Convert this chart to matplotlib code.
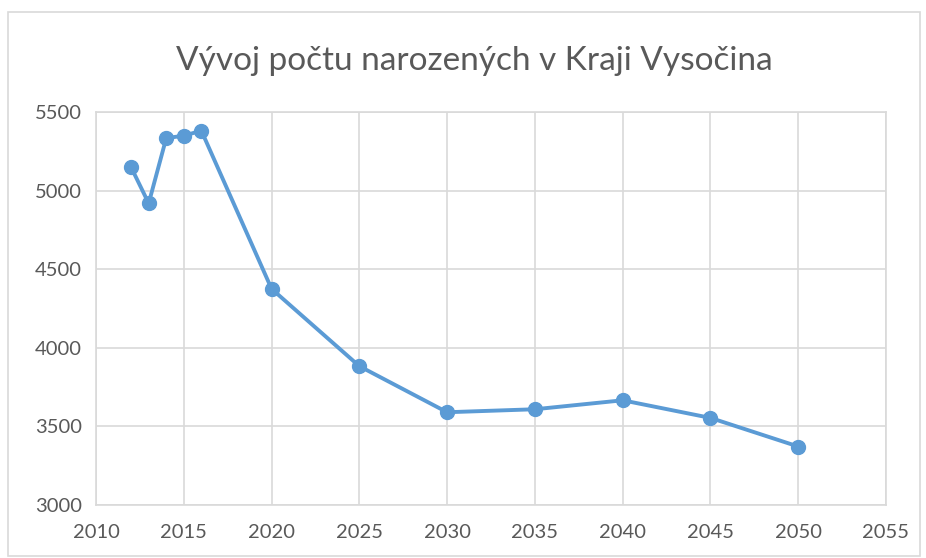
import matplotlib.pyplot as plt
from matplotlib.patches import Rectangle

# roky a pocty narozenych (odhad z grafu)
roky = [2012, 2013, 2014, 2015, 2016, 2020, 2025, 2030, 2035, 2040, 2045, 2050]
narozeni = [5148, 4919, 5334, 5349, 5381, 4375, 3883, 3590, 3609, 3666, 3554, 3372]

x_ticks = list(range(2010, 2056, 5))
y_ticks = list(range(3000, 5501, 500))

plt.rcParams['font.family'] = ['Lato', 'DejaVu Sans']

fig = plt.figure(figsize=(9.26, 5.58), dpi=100)
ax = fig.add_axes([0.1037, 0.095, 0.8531, 0.7043])

# ramecek kolem grafu
fig.patches.append(Rectangle((0.009, 0.004), 0.985, 0.975, transform=fig.transFigure,
                             fill=False, edgecolor='#d9d9d9', linewidth=1.2))

ax.plot(roky, narozeni, color='#5b9bd5', linewidth=2.8, marker='o', markersize=10,
        zorder=3)

ax.set_xlim(2010, 2055)
ax.set_ylim(3000, 5500)
ax.set_xticks(x_ticks)
ax.set_yticks(y_ticks)
ax.grid(color='#d9d9d9', linewidth=1.2)
ax.set_axisbelow(True)
for s in ax.spines.values():
    s.set_color('#d9d9d9')
    s.set_linewidth(1.2)
ax.tick_params(length=0, labelsize=14.5, colors='#595959')
ax.tick_params(axis='x', pad=14)
ax.tick_params(axis='y', pad=10)

fig.text(0.512, 0.89, 'Vývoj počtu narozených v Kraji Vysočina', ha='center', va='center',
         fontsize=24, color='#595959')

fig.savefig('out.png', dpi=100)
